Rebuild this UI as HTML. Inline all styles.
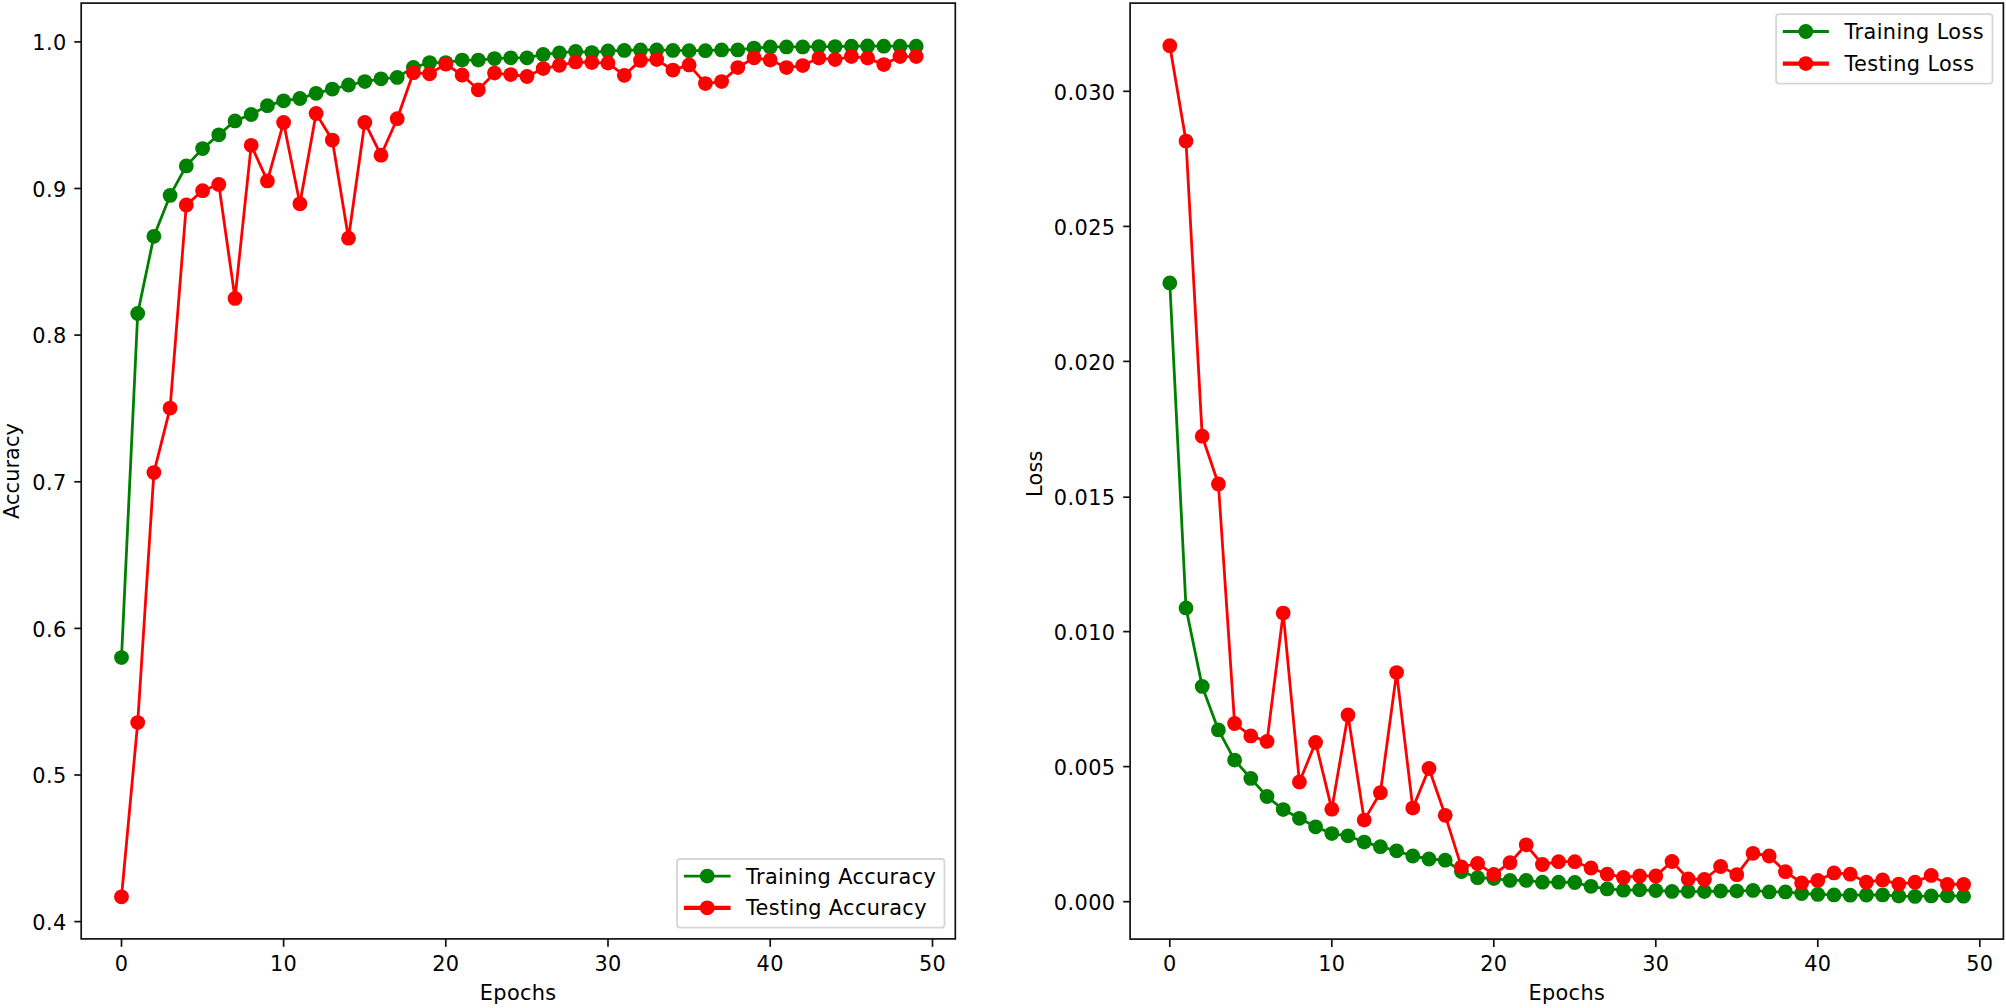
<!DOCTYPE html>
<html lang="en"><head><meta charset="utf-8"><title>Training curves</title>
<style>html,body{margin:0;padding:0;background:#fff}svg{display:block}</style></head>
<body>
<svg width="2006" height="1008" viewBox="0 0 2006 1008" font-family="'DejaVu Sans','Liberation Sans',sans-serif" font-size="20.83" fill="#000">
<rect width="2006" height="1008" fill="#fff"/>
<rect x="81.2" y="3.1" width="874.1" height="935.8" fill="#fff" stroke="#111" stroke-width="1.7"/>
<g stroke="#111" stroke-width="1.7"><line x1="121.5" y1="938.9" x2="121.5" y2="946.8"/><line x1="283.6" y1="938.9" x2="283.6" y2="946.8"/><line x1="445.8" y1="938.9" x2="445.8" y2="946.8"/><line x1="608.0" y1="938.9" x2="608.0" y2="946.8"/><line x1="770.2" y1="938.9" x2="770.2" y2="946.8"/><line x1="932.5" y1="938.9" x2="932.5" y2="946.8"/><line x1="74.3" y1="921.6" x2="81.2" y2="921.6"/><line x1="74.3" y1="775.0" x2="81.2" y2="775.0"/><line x1="74.3" y1="628.4" x2="81.2" y2="628.4"/><line x1="74.3" y1="481.8" x2="81.2" y2="481.8"/><line x1="74.3" y1="335.1" x2="81.2" y2="335.1"/><line x1="74.3" y1="188.5" x2="81.2" y2="188.5"/><line x1="74.3" y1="41.9" x2="81.2" y2="41.9"/></g>
<g text-anchor="middle" letter-spacing="0.35"><text x="121.5" y="970.5">0</text><text x="283.6" y="970.5">10</text><text x="445.8" y="970.5">20</text><text x="608.0" y="970.5">30</text><text x="770.2" y="970.5">40</text><text x="932.5" y="970.5">50</text><text x="518.2" y="1000.3">Epochs</text></g>
<g text-anchor="end" letter-spacing="0.4"><text x="66.6" y="929.8">0.4</text><text x="66.6" y="783.2">0.5</text><text x="66.6" y="636.6">0.6</text><text x="66.6" y="490.0">0.7</text><text x="66.6" y="343.3">0.8</text><text x="66.6" y="196.7">0.9</text><text x="66.6" y="50.1">1.0</text></g>
<text text-anchor="middle" letter-spacing="0.1" transform="translate(18.5,471.0) rotate(-90)">Accuracy</text>
<polyline points="121.5,657.6 137.7,313.5 153.9,236.3 170.1,195.4 186.3,165.9 202.6,148.6 218.8,134.8 235.0,120.9 251.2,114.5 267.4,105.7 283.6,100.8 299.9,98.5 316.1,93.3 332.3,89.1 348.5,85.0 364.8,81.6 381.0,78.8 397.2,77.4 413.4,67.5 429.6,62.6 445.8,62.6 462.1,60.1 478.3,60.1 494.5,58.6 510.7,57.8 527.0,57.8 543.2,54.4 559.4,52.9 575.6,51.4 591.8,52.6 608.0,51.0 624.3,50.4 640.5,49.9 656.7,49.9 672.9,50.4 689.1,50.7 705.4,50.7 721.6,49.9 737.8,49.9 754.0,48.1 770.2,46.9 786.5,46.9 802.7,46.9 818.9,46.6 835.1,46.6 851.4,46.2 867.6,45.9 883.8,46.2 900.0,46.2 916.2,46.2" fill="none" stroke="#008000" stroke-width="2.8" stroke-linejoin="round" stroke-linecap="butt"/>
<g fill="#008000"><circle cx="121.5" cy="657.6" r="7.4"/><circle cx="137.7" cy="313.5" r="7.4"/><circle cx="153.9" cy="236.3" r="7.4"/><circle cx="170.1" cy="195.4" r="7.4"/><circle cx="186.3" cy="165.9" r="7.4"/><circle cx="202.6" cy="148.6" r="7.4"/><circle cx="218.8" cy="134.8" r="7.4"/><circle cx="235.0" cy="120.9" r="7.4"/><circle cx="251.2" cy="114.5" r="7.4"/><circle cx="267.4" cy="105.7" r="7.4"/><circle cx="283.6" cy="100.8" r="7.4"/><circle cx="299.9" cy="98.5" r="7.4"/><circle cx="316.1" cy="93.3" r="7.4"/><circle cx="332.3" cy="89.1" r="7.4"/><circle cx="348.5" cy="85.0" r="7.4"/><circle cx="364.8" cy="81.6" r="7.4"/><circle cx="381.0" cy="78.8" r="7.4"/><circle cx="397.2" cy="77.4" r="7.4"/><circle cx="413.4" cy="67.5" r="7.4"/><circle cx="429.6" cy="62.6" r="7.4"/><circle cx="445.8" cy="62.6" r="7.4"/><circle cx="462.1" cy="60.1" r="7.4"/><circle cx="478.3" cy="60.1" r="7.4"/><circle cx="494.5" cy="58.6" r="7.4"/><circle cx="510.7" cy="57.8" r="7.4"/><circle cx="527.0" cy="57.8" r="7.4"/><circle cx="543.2" cy="54.4" r="7.4"/><circle cx="559.4" cy="52.9" r="7.4"/><circle cx="575.6" cy="51.4" r="7.4"/><circle cx="591.8" cy="52.6" r="7.4"/><circle cx="608.0" cy="51.0" r="7.4"/><circle cx="624.3" cy="50.4" r="7.4"/><circle cx="640.5" cy="49.9" r="7.4"/><circle cx="656.7" cy="49.9" r="7.4"/><circle cx="672.9" cy="50.4" r="7.4"/><circle cx="689.1" cy="50.7" r="7.4"/><circle cx="705.4" cy="50.7" r="7.4"/><circle cx="721.6" cy="49.9" r="7.4"/><circle cx="737.8" cy="49.9" r="7.4"/><circle cx="754.0" cy="48.1" r="7.4"/><circle cx="770.2" cy="46.9" r="7.4"/><circle cx="786.5" cy="46.9" r="7.4"/><circle cx="802.7" cy="46.9" r="7.4"/><circle cx="818.9" cy="46.6" r="7.4"/><circle cx="835.1" cy="46.6" r="7.4"/><circle cx="851.4" cy="46.2" r="7.4"/><circle cx="867.6" cy="45.9" r="7.4"/><circle cx="883.8" cy="46.2" r="7.4"/><circle cx="900.0" cy="46.2" r="7.4"/><circle cx="916.2" cy="46.2" r="7.4"/></g>
<polyline points="121.5,896.8 137.7,722.6 153.9,472.6 170.1,408.1 186.3,204.9 202.6,190.7 218.8,184.4 235.0,298.4 251.2,145.3 267.4,180.9 283.6,122.4 299.9,203.8 316.1,113.5 332.3,140.1 348.5,238.2 364.8,122.4 381.0,155.2 397.2,118.7 413.4,72.7 429.6,73.8 445.8,64.1 462.1,75.0 478.3,89.8 494.5,73.1 510.7,74.6 527.0,76.5 543.2,68.6 559.4,65.3 575.6,61.9 591.8,62.6 608.0,63.1 624.3,75.3 640.5,60.4 656.7,59.6 672.9,70.1 689.1,64.9 705.4,83.6 721.6,81.6 737.8,67.6 754.0,57.8 770.2,60.1 786.5,67.6 802.7,65.6 818.9,58.1 835.1,59.6 851.4,56.6 867.6,58.1 883.8,64.6 900.0,56.6 916.2,56.6" fill="none" stroke="#ff0000" stroke-width="2.8" stroke-linejoin="round" stroke-linecap="butt"/>
<g fill="#ff0000"><circle cx="121.5" cy="896.8" r="7.4"/><circle cx="137.7" cy="722.6" r="7.4"/><circle cx="153.9" cy="472.6" r="7.4"/><circle cx="170.1" cy="408.1" r="7.4"/><circle cx="186.3" cy="204.9" r="7.4"/><circle cx="202.6" cy="190.7" r="7.4"/><circle cx="218.8" cy="184.4" r="7.4"/><circle cx="235.0" cy="298.4" r="7.4"/><circle cx="251.2" cy="145.3" r="7.4"/><circle cx="267.4" cy="180.9" r="7.4"/><circle cx="283.6" cy="122.4" r="7.4"/><circle cx="299.9" cy="203.8" r="7.4"/><circle cx="316.1" cy="113.5" r="7.4"/><circle cx="332.3" cy="140.1" r="7.4"/><circle cx="348.5" cy="238.2" r="7.4"/><circle cx="364.8" cy="122.4" r="7.4"/><circle cx="381.0" cy="155.2" r="7.4"/><circle cx="397.2" cy="118.7" r="7.4"/><circle cx="413.4" cy="72.7" r="7.4"/><circle cx="429.6" cy="73.8" r="7.4"/><circle cx="445.8" cy="64.1" r="7.4"/><circle cx="462.1" cy="75.0" r="7.4"/><circle cx="478.3" cy="89.8" r="7.4"/><circle cx="494.5" cy="73.1" r="7.4"/><circle cx="510.7" cy="74.6" r="7.4"/><circle cx="527.0" cy="76.5" r="7.4"/><circle cx="543.2" cy="68.6" r="7.4"/><circle cx="559.4" cy="65.3" r="7.4"/><circle cx="575.6" cy="61.9" r="7.4"/><circle cx="591.8" cy="62.6" r="7.4"/><circle cx="608.0" cy="63.1" r="7.4"/><circle cx="624.3" cy="75.3" r="7.4"/><circle cx="640.5" cy="60.4" r="7.4"/><circle cx="656.7" cy="59.6" r="7.4"/><circle cx="672.9" cy="70.1" r="7.4"/><circle cx="689.1" cy="64.9" r="7.4"/><circle cx="705.4" cy="83.6" r="7.4"/><circle cx="721.6" cy="81.6" r="7.4"/><circle cx="737.8" cy="67.6" r="7.4"/><circle cx="754.0" cy="57.8" r="7.4"/><circle cx="770.2" cy="60.1" r="7.4"/><circle cx="786.5" cy="67.6" r="7.4"/><circle cx="802.7" cy="65.6" r="7.4"/><circle cx="818.9" cy="58.1" r="7.4"/><circle cx="835.1" cy="59.6" r="7.4"/><circle cx="851.4" cy="56.6" r="7.4"/><circle cx="867.6" cy="58.1" r="7.4"/><circle cx="883.8" cy="64.6" r="7.4"/><circle cx="900.0" cy="56.6" r="7.4"/><circle cx="916.2" cy="56.6" r="7.4"/></g>
<rect x="677" y="859" width="267.5" height="68.6" rx="3" ry="3" fill="#fff" fill-opacity="0.8" stroke="#d6d6d6" stroke-width="1.8"/>
<line x1="683.9" y1="876.1" x2="730.6" y2="876.1" stroke="#008000" stroke-width="2.8"/><circle cx="707.2" cy="876.1" r="7.4" fill="#008000"/><text x="746" y="883.6" letter-spacing="0.37">Training Accuracy</text>
<line x1="683.9" y1="907.8" x2="730.6" y2="907.8" stroke="#ff0000" stroke-width="4.2"/><circle cx="707.2" cy="907.8" r="7.4" fill="#ff0000"/><text x="746" y="914.8" letter-spacing="0.37">Testing Accuracy</text>
<rect x="1130.1" y="3.1" width="873.3" height="936.0" fill="#fff" stroke="#111" stroke-width="1.7"/>
<g stroke="#111" stroke-width="1.7"><line x1="1169.8" y1="939.1" x2="1169.8" y2="947.0"/><line x1="1331.8" y1="939.1" x2="1331.8" y2="947.0"/><line x1="1493.8" y1="939.1" x2="1493.8" y2="947.0"/><line x1="1655.8" y1="939.1" x2="1655.8" y2="947.0"/><line x1="1817.8" y1="939.1" x2="1817.8" y2="947.0"/><line x1="1979.8" y1="939.1" x2="1979.8" y2="947.0"/><line x1="1123.2" y1="901.7" x2="1130.1" y2="901.7"/><line x1="1123.2" y1="766.6" x2="1130.1" y2="766.6"/><line x1="1123.2" y1="631.6" x2="1130.1" y2="631.6"/><line x1="1123.2" y1="497.2" x2="1130.1" y2="497.2"/><line x1="1123.2" y1="361.4" x2="1130.1" y2="361.4"/><line x1="1123.2" y1="226.4" x2="1130.1" y2="226.4"/><line x1="1123.2" y1="91.3" x2="1130.1" y2="91.3"/></g>
<g text-anchor="middle" letter-spacing="0.35"><text x="1169.8" y="970.5">0</text><text x="1331.8" y="970.5">10</text><text x="1493.8" y="970.5">20</text><text x="1655.8" y="970.5">30</text><text x="1817.8" y="970.5">40</text><text x="1979.8" y="970.5">50</text><text x="1566.8" y="1000.3">Epochs</text></g>
<g text-anchor="end" letter-spacing="0.4"><text x="1115.5" y="909.9">0.000</text><text x="1115.5" y="774.8">0.005</text><text x="1115.5" y="639.8">0.010</text><text x="1115.5" y="505.4">0.015</text><text x="1115.5" y="369.6">0.020</text><text x="1115.5" y="234.6">0.025</text><text x="1115.5" y="99.5">0.030</text></g>
<text text-anchor="middle" letter-spacing="0.25" transform="translate(1042.2,473.7) rotate(-90)">Loss</text>
<polyline points="1169.8,282.9 1186.0,607.9 1202.2,686.4 1218.4,729.9 1234.6,760.1 1250.8,778.4 1267.0,796.5 1283.2,809.6 1299.4,818.3 1315.6,826.8 1331.8,833.6 1348.0,835.8 1364.2,842.1 1380.4,846.7 1396.6,850.8 1412.8,856.0 1429.0,859.0 1445.2,860.2 1461.4,871.5 1477.6,877.7 1493.8,878.6 1510.0,880.4 1526.2,880.4 1542.4,882.2 1558.6,882.2 1574.8,882.5 1591.0,886.3 1607.2,888.9 1623.4,890.2 1639.6,889.8 1655.8,890.5 1672.0,891.4 1688.2,891.3 1704.4,891.6 1720.6,891.0 1736.8,891.1 1753.0,890.4 1769.2,891.9 1785.4,891.9 1801.6,893.5 1817.8,894.4 1834.0,894.9 1850.2,895.2 1866.4,895.0 1882.6,894.9 1898.8,896.1 1915.0,896.4 1931.2,895.9 1947.4,895.8 1963.6,896.2" fill="none" stroke="#008000" stroke-width="2.8" stroke-linejoin="round" stroke-linecap="butt"/>
<g fill="#008000"><circle cx="1169.8" cy="282.9" r="7.4"/><circle cx="1186.0" cy="607.9" r="7.4"/><circle cx="1202.2" cy="686.4" r="7.4"/><circle cx="1218.4" cy="729.9" r="7.4"/><circle cx="1234.6" cy="760.1" r="7.4"/><circle cx="1250.8" cy="778.4" r="7.4"/><circle cx="1267.0" cy="796.5" r="7.4"/><circle cx="1283.2" cy="809.6" r="7.4"/><circle cx="1299.4" cy="818.3" r="7.4"/><circle cx="1315.6" cy="826.8" r="7.4"/><circle cx="1331.8" cy="833.6" r="7.4"/><circle cx="1348.0" cy="835.8" r="7.4"/><circle cx="1364.2" cy="842.1" r="7.4"/><circle cx="1380.4" cy="846.7" r="7.4"/><circle cx="1396.6" cy="850.8" r="7.4"/><circle cx="1412.8" cy="856.0" r="7.4"/><circle cx="1429.0" cy="859.0" r="7.4"/><circle cx="1445.2" cy="860.2" r="7.4"/><circle cx="1461.4" cy="871.5" r="7.4"/><circle cx="1477.6" cy="877.7" r="7.4"/><circle cx="1493.8" cy="878.6" r="7.4"/><circle cx="1510.0" cy="880.4" r="7.4"/><circle cx="1526.2" cy="880.4" r="7.4"/><circle cx="1542.4" cy="882.2" r="7.4"/><circle cx="1558.6" cy="882.2" r="7.4"/><circle cx="1574.8" cy="882.5" r="7.4"/><circle cx="1591.0" cy="886.3" r="7.4"/><circle cx="1607.2" cy="888.9" r="7.4"/><circle cx="1623.4" cy="890.2" r="7.4"/><circle cx="1639.6" cy="889.8" r="7.4"/><circle cx="1655.8" cy="890.5" r="7.4"/><circle cx="1672.0" cy="891.4" r="7.4"/><circle cx="1688.2" cy="891.3" r="7.4"/><circle cx="1704.4" cy="891.6" r="7.4"/><circle cx="1720.6" cy="891.0" r="7.4"/><circle cx="1736.8" cy="891.1" r="7.4"/><circle cx="1753.0" cy="890.4" r="7.4"/><circle cx="1769.2" cy="891.9" r="7.4"/><circle cx="1785.4" cy="891.9" r="7.4"/><circle cx="1801.6" cy="893.5" r="7.4"/><circle cx="1817.8" cy="894.4" r="7.4"/><circle cx="1834.0" cy="894.9" r="7.4"/><circle cx="1850.2" cy="895.2" r="7.4"/><circle cx="1866.4" cy="895.0" r="7.4"/><circle cx="1882.6" cy="894.9" r="7.4"/><circle cx="1898.8" cy="896.1" r="7.4"/><circle cx="1915.0" cy="896.4" r="7.4"/><circle cx="1931.2" cy="895.9" r="7.4"/><circle cx="1947.4" cy="895.8" r="7.4"/><circle cx="1963.6" cy="896.2" r="7.4"/></g>
<polyline points="1169.8,45.7 1186.0,141.1 1202.2,436.2 1218.4,484.0 1234.6,723.5 1250.8,735.9 1267.0,741.4 1283.2,613.1 1299.4,782.0 1315.6,742.5 1331.8,809.2 1348.0,714.9 1364.2,820.1 1380.4,792.7 1396.6,672.6 1412.8,808.1 1429.0,768.5 1445.2,815.3 1461.4,866.9 1477.6,863.5 1493.8,874.4 1510.0,862.7 1526.2,844.8 1542.4,864.5 1558.6,861.7 1574.8,861.7 1591.0,868.0 1607.2,874.2 1623.4,877.4 1639.6,875.9 1655.8,875.9 1672.0,861.5 1688.2,878.9 1704.4,879.5 1720.6,866.5 1736.8,874.7 1753.0,853.3 1769.2,856.0 1785.4,871.7 1801.6,882.9 1817.8,880.4 1834.0,872.9 1850.2,874.2 1866.4,882.2 1882.6,879.9 1898.8,884.1 1915.0,882.2 1931.2,875.4 1947.4,884.4 1963.6,884.4" fill="none" stroke="#ff0000" stroke-width="2.8" stroke-linejoin="round" stroke-linecap="butt"/>
<g fill="#ff0000"><circle cx="1169.8" cy="45.7" r="7.4"/><circle cx="1186.0" cy="141.1" r="7.4"/><circle cx="1202.2" cy="436.2" r="7.4"/><circle cx="1218.4" cy="484.0" r="7.4"/><circle cx="1234.6" cy="723.5" r="7.4"/><circle cx="1250.8" cy="735.9" r="7.4"/><circle cx="1267.0" cy="741.4" r="7.4"/><circle cx="1283.2" cy="613.1" r="7.4"/><circle cx="1299.4" cy="782.0" r="7.4"/><circle cx="1315.6" cy="742.5" r="7.4"/><circle cx="1331.8" cy="809.2" r="7.4"/><circle cx="1348.0" cy="714.9" r="7.4"/><circle cx="1364.2" cy="820.1" r="7.4"/><circle cx="1380.4" cy="792.7" r="7.4"/><circle cx="1396.6" cy="672.6" r="7.4"/><circle cx="1412.8" cy="808.1" r="7.4"/><circle cx="1429.0" cy="768.5" r="7.4"/><circle cx="1445.2" cy="815.3" r="7.4"/><circle cx="1461.4" cy="866.9" r="7.4"/><circle cx="1477.6" cy="863.5" r="7.4"/><circle cx="1493.8" cy="874.4" r="7.4"/><circle cx="1510.0" cy="862.7" r="7.4"/><circle cx="1526.2" cy="844.8" r="7.4"/><circle cx="1542.4" cy="864.5" r="7.4"/><circle cx="1558.6" cy="861.7" r="7.4"/><circle cx="1574.8" cy="861.7" r="7.4"/><circle cx="1591.0" cy="868.0" r="7.4"/><circle cx="1607.2" cy="874.2" r="7.4"/><circle cx="1623.4" cy="877.4" r="7.4"/><circle cx="1639.6" cy="875.9" r="7.4"/><circle cx="1655.8" cy="875.9" r="7.4"/><circle cx="1672.0" cy="861.5" r="7.4"/><circle cx="1688.2" cy="878.9" r="7.4"/><circle cx="1704.4" cy="879.5" r="7.4"/><circle cx="1720.6" cy="866.5" r="7.4"/><circle cx="1736.8" cy="874.7" r="7.4"/><circle cx="1753.0" cy="853.3" r="7.4"/><circle cx="1769.2" cy="856.0" r="7.4"/><circle cx="1785.4" cy="871.7" r="7.4"/><circle cx="1801.6" cy="882.9" r="7.4"/><circle cx="1817.8" cy="880.4" r="7.4"/><circle cx="1834.0" cy="872.9" r="7.4"/><circle cx="1850.2" cy="874.2" r="7.4"/><circle cx="1866.4" cy="882.2" r="7.4"/><circle cx="1882.6" cy="879.9" r="7.4"/><circle cx="1898.8" cy="884.1" r="7.4"/><circle cx="1915.0" cy="882.2" r="7.4"/><circle cx="1931.2" cy="875.4" r="7.4"/><circle cx="1947.4" cy="884.4" r="7.4"/><circle cx="1963.6" cy="884.4" r="7.4"/></g>
<rect x="1776.1" y="14.1" width="216.4" height="69.5" rx="3" ry="3" fill="#fff" fill-opacity="0.8" stroke="#d6d6d6" stroke-width="1.8"/>
<line x1="1782.8" y1="31.5" x2="1828.9" y2="31.5" stroke="#008000" stroke-width="2.8"/><circle cx="1805.8" cy="31.5" r="7.4" fill="#008000"/><text x="1844.5" y="39.3" letter-spacing="0.38">Training Loss</text>
<line x1="1782.8" y1="63.6" x2="1828.9" y2="63.6" stroke="#ff0000" stroke-width="4.2"/><circle cx="1805.8" cy="63.6" r="7.4" fill="#ff0000"/><text x="1844.5" y="71.0" letter-spacing="0.38">Testing Loss</text>
</svg>
</body></html>
